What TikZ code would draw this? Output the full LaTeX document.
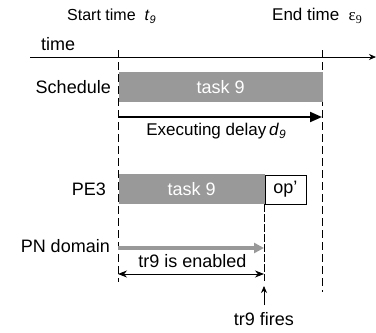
\documentclass[tikz,border=0pt]{standalone}
\usepackage{fontspec}
\setmainfont{Liberation Sans}
\newfontfamily\greekserif{Liberation Serif}
\usetikzlibrary{arrows.meta}
\begin{document}
\begin{tikzpicture}[x=1pt,y=-1pt,
  lbl/.style={font=\fontsize{18}{20}\selectfont, inner sep=0pt},
  hdr/.style={font=\fontsize{16}{18}\selectfont, inner sep=0pt},
  vdash/.style={draw=black, line width=1pt, dash pattern=on 8pt off 4pt},
  graybox/.style={fill=black!40, draw=none},
]
\useasboundingbox (0,0) rectangle (376,333);
% header texts
\node[hdr, anchor=west] (start) at (67,16) {Start time\ \ \textit{t}\raisebox{-0.35ex}{\fontsize{11}{12}\selectfont\textit{9}}};
\node[hdr, anchor=west, font=\fontsize{17}{19}\selectfont] (endt) at (272,16) {End time\ \ {\greekserif ε\raisebox{-0.3ex}{\fontsize{12}{12}\selectfont 9}}};
\node[lbl, anchor=west] (timel) at (41,44) {time};
% time axis
\coordinate (ta0) at (30,57);
\coordinate (ta1) at (376,57);
\draw[line width=0.8pt, -{Stealth[length=7pt,width=6pt]}] (ta0) -- (ta1);
% dashed lines
\coordinate (l0) at (118,50); \coordinate (l1) at (118,282);
\coordinate (r0) at (322,50); \coordinate (r1) at (322,292);
\coordinate (m0) at (264,204); \coordinate (m1) at (264,281);
\draw[vdash] (l0) -- (l1);
\draw[vdash] (r0) -- (r1);
\draw[vdash, dash pattern=on 8pt off 2pt] (m0) -- (m1);
% schedule box
\node[graybox, minimum width=204pt, minimum height=30pt, anchor=north west, inner sep=0pt] (sched) at (118.5,72) {};
\node[lbl, text=white] (schedtxt) at (sched.center) {task 9};
\node[lbl, anchor=east] (schedl) at (111,87) {Schedule};
% executing delay
\coordinate (e0) at (118,117);
\coordinate (e1) at (322,117);
\draw[line width=2pt, -{Triangle[length=12pt,width=10pt]}] (e0) -- (e1);
\node[lbl, font=\fontsize{17}{19}\selectfont] (exec) at (216,131) {Executing delay\,\textit{d}\raisebox{-0.35ex}{\fontsize{12}{12}\selectfont\textit{9}}};
% PE3
\node[graybox, minimum width=146pt, minimum height=30pt, anchor=north west, inner sep=0pt] (pe) at (118.5,174) {};
\node[lbl, text=white] (petxt) at (pe.center) {task 9};
\node[draw=black, line width=0.8pt, fill=white, minimum width=41pt, minimum height=29pt, anchor=north west, inner sep=0pt] (op) at (264.5,174.5) {};
\node[lbl] (optxt) at (op.center) {op'};
\node[lbl, anchor=east] (pel) at (106,189) {PE3};
% PN domain
\coordinate (g0) at (118,248);
\coordinate (g1) at (264,248);
\draw[draw=black!40, line width=3.5pt, -{Triangle[length=10pt,width=10pt]}] (g0) -- (g1);
\node[lbl, anchor=east] (pnl) at (110,246) {PN domain};
\node[lbl] (en) at (192.5,261) {tr9 is enabled};
\coordinate (d0) at (118,274);
\coordinate (d1) at (264,274);
\draw[line width=0.8pt, {Stealth[length=9pt,width=7pt]}-{Stealth[length=9pt,width=7pt]}] (d0) -- (d1);
% tr9 fires
\coordinate (f0) at (264,305);
\coordinate (f1) at (264,286);
\draw[line width=0.8pt, -{Stealth[length=7pt,width=6pt]}] (f0) -- (f1);
\node[lbl] (fires) at (264,319) {tr9 fires};
\end{tikzpicture}
\end{document}
